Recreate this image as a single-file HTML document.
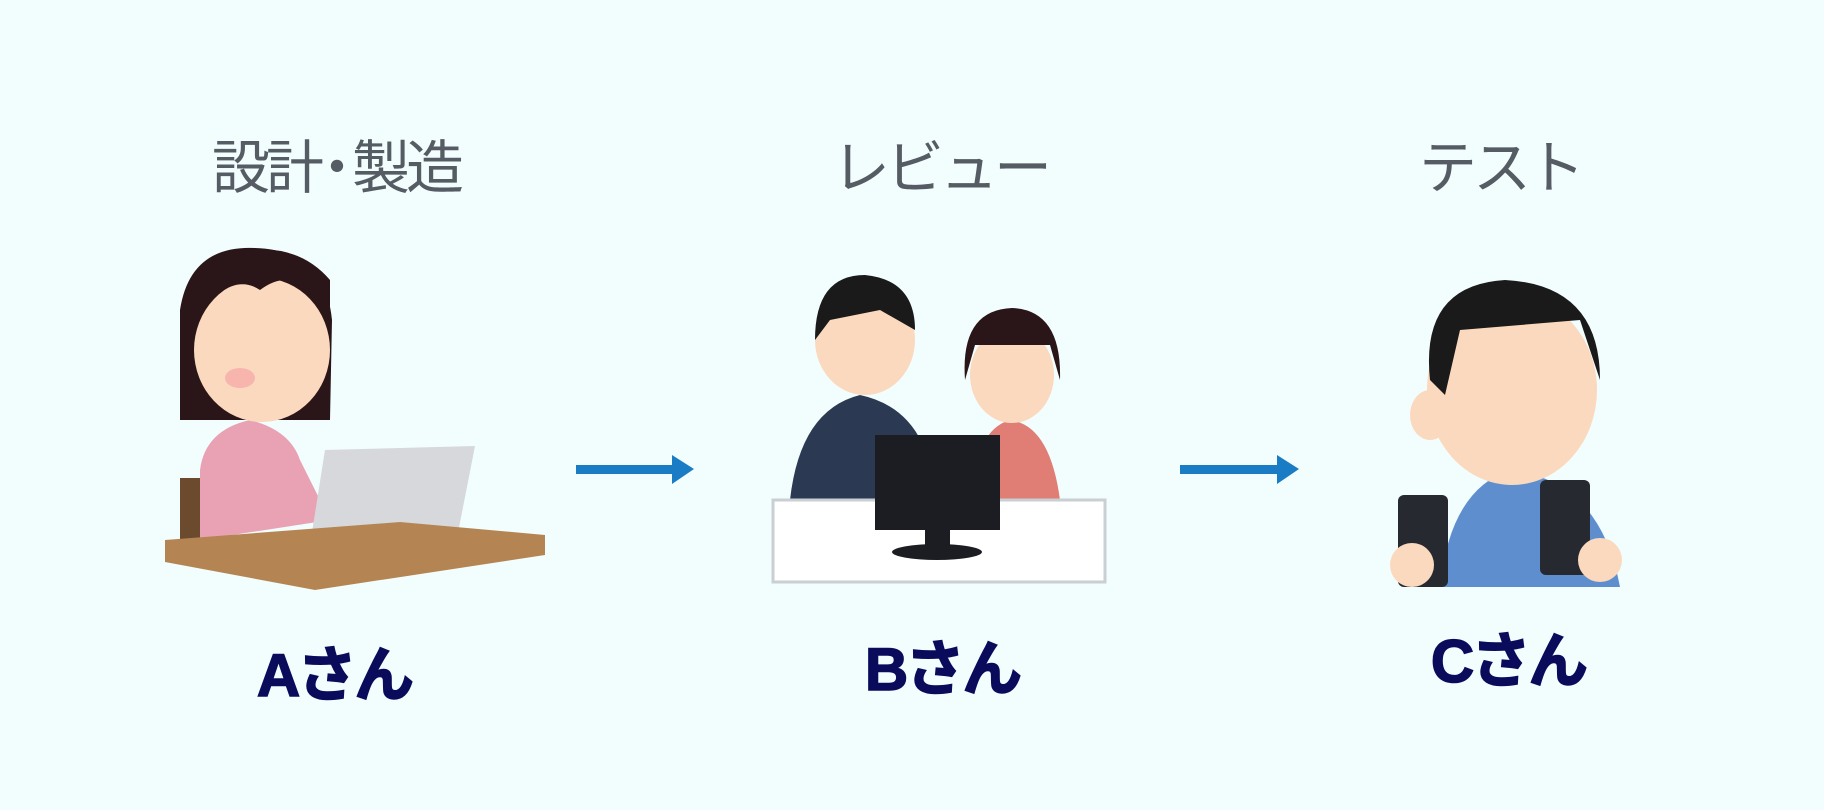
<!DOCTYPE html>
<html><head><meta charset="utf-8"><style>
html,body{margin:0;padding:0}
body{width:1824px;height:810px;background:#f2fefe;position:relative;overflow:hidden;font-family:"Liberation Sans","Noto Sans CJK JP",sans-serif}
.t{position:absolute;color:#555c64;font-size:58px;letter-spacing:-4px;white-space:nowrap;transform:translateX(-50%);line-height:1}
.n{position:absolute;color:#0b0b5c;font-size:60px;font-weight:bold;white-space:nowrap;transform:translateX(-50%);line-height:1;-webkit-text-stroke:1.5px #0b0b5c;letter-spacing:-3px}
svg{position:absolute;left:0;top:0}
</style></head><body>
<div class="t" style="left:336px;top:140px">設計<span style="margin:0 -10px 0 -12px">・</span>製造</div>
<div class="t" style="left:940px;top:140px">レビュー</div>
<div class="t" style="left:1500px;top:140px">テスト</div>
<div class="n" style="left:334px;top:646px">Aさん</div>
<div class="n" style="left:942px;top:640px">Bさん</div>
<div class="n" style="left:1508px;top:632px">Cさん</div>
<svg width="1824" height="810">
<rect x="576" y="465" width="100" height="9" fill="#1a7cc4"/><polygon points="672,455 694,469 672,484" fill="#1a7cc4"/>
<rect x="1180" y="465" width="100" height="9" fill="#1a7cc4"/><polygon points="1277,455 1299,469 1277,484" fill="#1a7cc4"/>
<rect x="180" y="478" width="25" height="62" fill="#6b4a2e"/>
<path d="M180 310 Q190 245 255 248 Q325 250 332 320 L330 420 L180 420 Z" fill="#2a1618"/>
<path d="M200 470 Q205 430 250 420 Q290 430 300 460 L330 520 L200 540 Z" fill="#e9a2b4"/>
<ellipse cx="262" cy="350" rx="68" ry="72" fill="#fbd9be"/>
<path d="M195 320 Q230 270 260 290 Q300 260 330 320 L330 280 Q300 245 250 250 Q195 260 195 320Z" fill="#2a1618"/>
<ellipse cx="240" cy="378" rx="15" ry="10" fill="#f7b5ae"/>
<polygon points="325,450 475,446 455,548 310,545" fill="#d7d8dc"/>
<path d="M165 540 L400 522 L545 535 L545 555 L315 590 L165 562Z" fill="#b48553"/>
<path d="M790 500 Q800 410 860 395 Q930 410 935 500Z" fill="#2b3a52"/>
<ellipse cx="865" cy="340" rx="50" ry="55" fill="#fbd9be"/>
<path d="M815 340 Q815 275 865 275 Q915 280 915 330 L880 310 L830 320Z" fill="#1a1a1a"/>
<path d="M970 500 Q975 430 1010 420 Q1050 425 1060 500Z" fill="#e07d75"/>
<ellipse cx="1012" cy="375" rx="42" ry="48" fill="#fbd9be"/>
<path d="M965 380 Q960 310 1012 308 Q1062 310 1060 380 L1050 345 L975 345Z" fill="#2a1618"/>
<rect x="773" y="500" width="332" height="82" fill="#fff" stroke="#c9cfd2" stroke-width="3"/>
<rect x="875" y="435" width="125" height="95" fill="#1b1d22"/>
<rect x="925" y="525" width="25" height="25" fill="#1b1d22"/><ellipse cx="937" cy="552" rx="45" ry="8" fill="#1b1d22"/>
<path d="M1440 587 Q1450 490 1510 470 Q1600 480 1620 587Z" fill="#5f8ecf"/>
<ellipse cx="1512" cy="390" rx="85" ry="95" fill="#fbd9be"/>
<ellipse cx="1430" cy="415" rx="20" ry="25" fill="#fbd9be"/>
<path d="M1430 380 Q1420 285 1505 280 Q1600 285 1600 380 L1580 320 L1460 330 L1445 395Z" fill="#1a1a1a"/>
<rect x="1398" y="495" width="50" height="92" rx="6" fill="#262a30"/>
<rect x="1540" y="480" width="50" height="95" rx="6" fill="#262a30"/>
<ellipse cx="1412" cy="565" rx="22" ry="22" fill="#fbd9be"/>
<ellipse cx="1600" cy="560" rx="22" ry="22" fill="#fbd9be"/>
</svg>
</body></html>
